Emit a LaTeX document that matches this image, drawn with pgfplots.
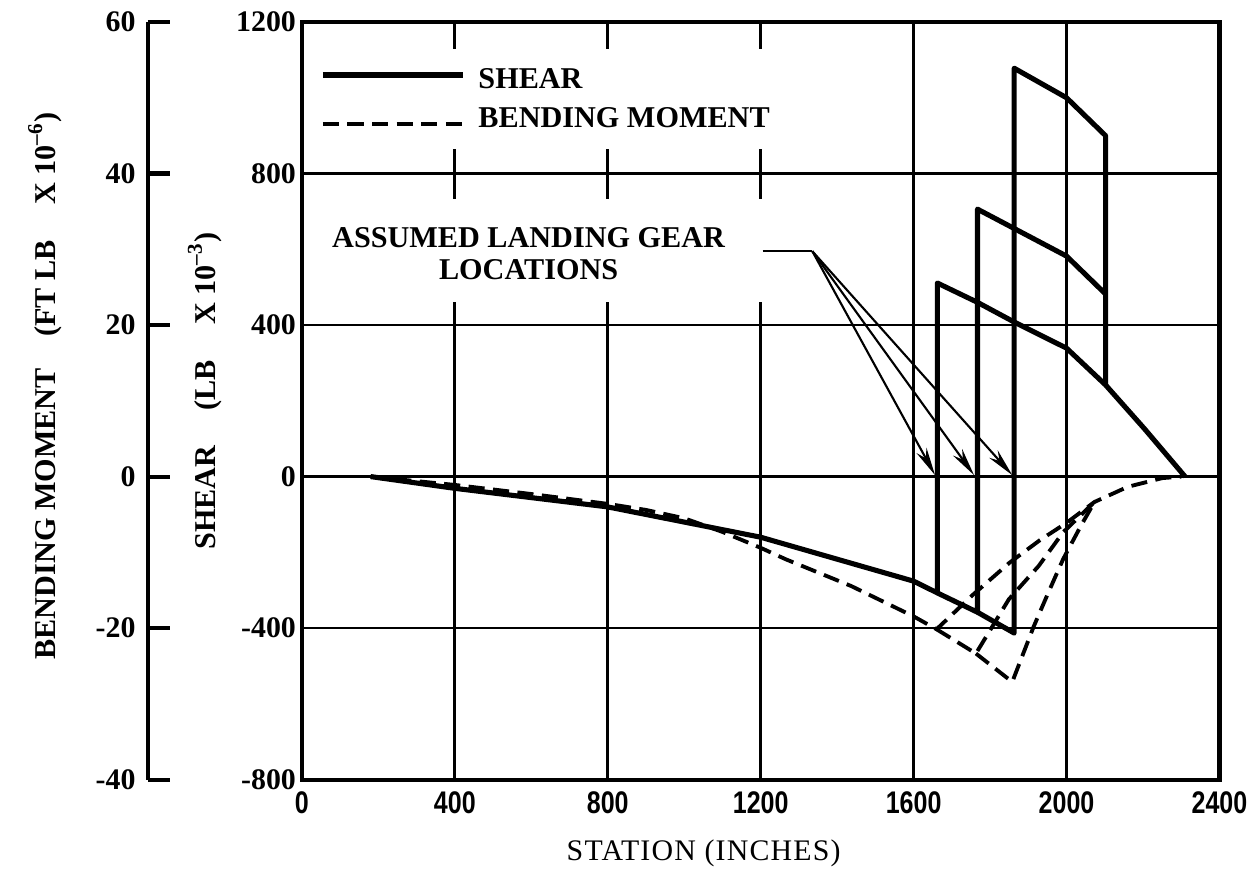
\documentclass[border=0pt]{standalone}
\usepackage{pgfplots}
\pgfplotsset{compat=1.18}
\usepackage{fontspec}
\setmainfont{Liberation Serif}
\newfontfamily\condsans[FakeStretch=0.8]{Liberation Sans}
\usetikzlibrary{arrows.meta}

\pgfplotsset{
  shearline/.style={black, line width=1.45pt, line join=round, mark=none},
  momentline/.style={black, line width=1.1pt, line join=round, mark=none, dash pattern=on 4.6pt off 2.4pt},
}

\begin{document}
\begin{tikzpicture}
% second scale: bending moment
\begin{axis}[
  at={(-1.54cm,0cm)}, anchor=south west,
  scale only axis, width=1cm, height=7.58cm,
  xmin=0, xmax=1, ymin=-40, ymax=60,
  axis y line*=left, hide x axis,
  axis line style={-, line width=1.2pt},
  ytick={-40,-20,0,20,40,60},
  yticklabels={-40,-20,0,20,40,60},
  tick align=inside, major tick length=0.22cm,
  ytick style={line width=1.2pt, black},
  yticklabel style={font=\bfseries\fontsize{8.5}{9}\selectfont},
]
\addplot[draw=none] coordinates {(0,0)};
\end{axis}

% main axis: shear
\begin{axis}[
  at={(0cm,0cm)}, anchor=south west,
  scale only axis, width=9.18cm, height=7.58cm,
  xmin=0, xmax=2400, ymin=-800, ymax=1200,
  xtick={0,400,800,1200,1600,2000,2400},
  xticklabels={0,400,800,1200,1600,2000,2400},
  ytick={-800,-400,0,400,800,1200},
  yticklabels={-800,-400,0,400,800,1200},
  major tick length=0pt,
  ymajorgrids,
  grid style={black, line width=0.75pt},
  axis line style={line width=1.2pt},
  xticklabel style={font=\condsans\bfseries\fontsize{8.9}{9}\selectfont},
  yticklabel style={font=\bfseries\fontsize{8.5}{9}\selectfont, inner sep=1.5pt},
  clip=false,
]
% vertical grid lines (broken behind the legend text on the left)
\pgfplotsinvokeforeach{400,800,1200}{
  \draw[line width=0.75pt] (axis cs:#1,-800) -- (axis cs:#1,461);
  \draw[line width=0.75pt] (axis cs:#1,734) -- (axis cs:#1,866);
  \draw[line width=0.75pt] (axis cs:#1,1130) -- (axis cs:#1,1200);
}
\draw[line width=0.75pt] (axis cs:1600,-800) -- (axis cs:1600,1200);
\draw[line width=0.75pt] (axis cs:2000,-800) -- (axis cs:2000,1200);

% shear, gear at 1662
\addplot[shearline] coordinates {
(180,0) (400,-31) (800,-80) (1200,-160) (1600,-276) (1662,-307)
(1662,511) (1767,460) (1863,408) (2000,339) (2102,242) (2204,126) (2310,0)};
% shear, gear at 1767
\addplot[shearline] coordinates {
(1662,-307) (1767,-358) (1767,706) (2000,582) (2102,482)};
% shear, gear at 1863
\addplot[shearline] coordinates {
(1767,-358) (1863,-413) (1863,1078) (2000,1000) (2102,900) (2102,242)};

% bending moment, gear at 1662
\addplot[momentline] coordinates {
(180,0) (400,-22) (600,-46) (800,-72) (900,-88) (1000,-110) (1100,-146) (1200,-188)
(1265,-218) (1437,-289) (1600,-369) (1660,-403)
(1755,-312) (1850,-228) (1930,-168) (2000,-122) (2073,-67) (2160,-27) (2250,-4) (2300,0)};
% bending moment, gear at 1767
\addplot[momentline] coordinates {
(1660,-403) (1763,-467) (1849,-324) (1927,-236) (1991,-147) (2073,-67)};
% bending moment, gear at 1863
\addplot[momentline] coordinates {
(1763,-467) (1858,-542) (1914,-396) (1952,-307) (1991,-218) (2038,-129) (2073,-67)};

% legend
\draw[line width=1.5pt] (axis cs:55,1060) -- (axis cs:421,1060);
\node[anchor=west, font=\bfseries\fontsize{8.6}{9}\selectfont, inner sep=0pt] at (axis cs:460,1050) {SHEAR};
\draw[line width=1.2pt, dash pattern=on 4.6pt off 2.4pt] (axis cs:55,931) -- (axis cs:421,931);
\node[anchor=west, font=\bfseries\fontsize{8.6}{9}\selectfont, inner sep=0pt] at (axis cs:460,947) {BENDING MOMENT};

% annotation
\node[align=center, font=\bfseries\fontsize{8.6}{9.2}\selectfont] at (axis cs:593,588) {ASSUMED LANDING GEAR\\LOCATIONS};
\draw[line width=0.6pt] (axis cs:1205,595) -- (axis cs:1335,595);
\pgfplotsinvokeforeach{1656,1758,1858}{
  \draw[line width=0.6pt, -{Stealth[length=8pt,width=3.2pt]}] (axis cs:1335,595) -- (axis cs:#1,4);
}
\end{axis}

% axis titles
\node[rotate=90, font=\bfseries\fontsize{8.6}{9}\selectfont] at (-0.97,3.89)
  {SHEAR\hspace{10pt}(LB\hspace{10pt}X 10\textsuperscript{--3})};
\node[rotate=90, font=\bfseries\fontsize{8.6}{9}\selectfont] at (-2.57,3.94)
  {BENDING MOMENT\hspace{9pt}(FT LB\hspace{10pt}X 10\textsuperscript{--6})};
\node[font=\addfontfeature{LetterSpace=4}\fontsize{8.5}{9}\selectfont] at (4.02,-0.74) {STATION (INCHES)};

\path[use as bounding box] (-3.02,-0.95) rectangle (9.57,7.80);
\end{tikzpicture}
\end{document}
